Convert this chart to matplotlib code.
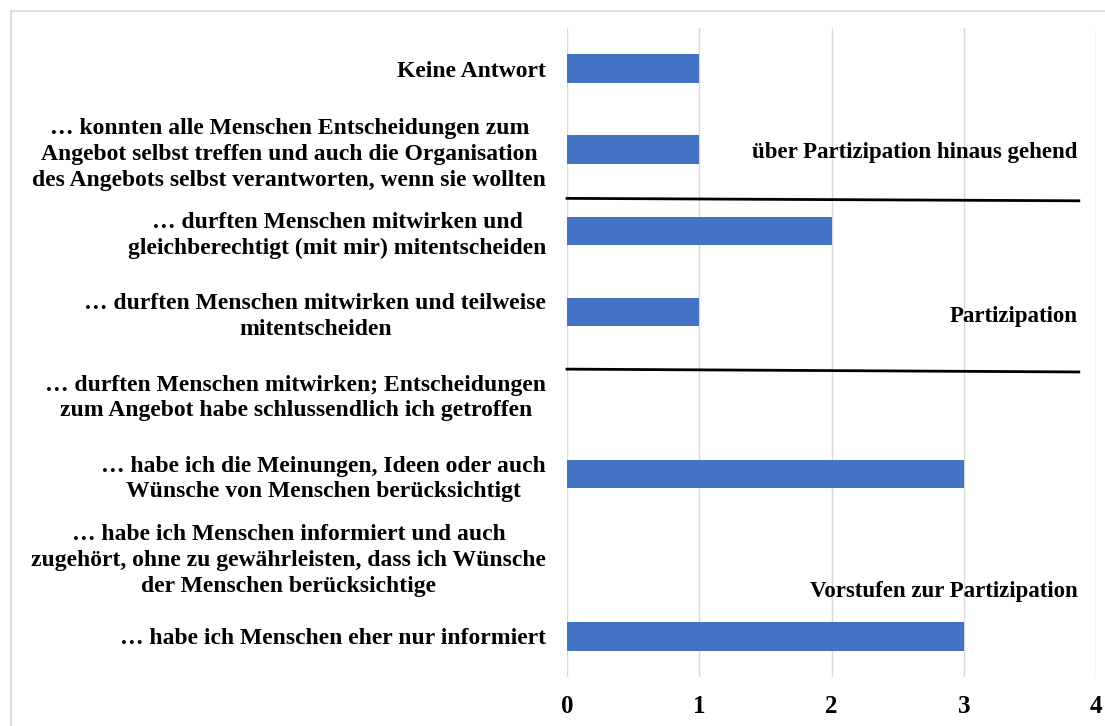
import matplotlib.pyplot as plt
from matplotlib.patches import Rectangle

plt.rcParams['font.family'] = ['Liberation Serif', 'DejaVu Serif']
plt.rcParams['font.weight'] = 'bold'

# categories from bottom to top
kategorien = [
    "… habe ich Menschen eher nur informiert",
    "… habe ich Menschen informiert und auch\nzugehört, ohne zu gewährleisten, dass ich Wünsche\nder Menschen berücksichtige",
    "… habe ich die Meinungen, Ideen oder auch\nWünsche von Menschen berücksichtigt",
    "… durften Menschen mitwirken; Entscheidungen\nzum Angebot habe schlussendlich ich getroffen",
    "… durften Menschen mitwirken und teilweise\nmitentscheiden",
    "… durften Menschen mitwirken und\ngleichberechtigt (mit mir) mitentscheiden",
    "… konnten alle Menschen Entscheidungen zum\nAngebot selbst treffen und auch die Organisation\ndes Angebots selbst verantworten, wenn sie wollten",
    "Keine Antwort",
]
anzahl = [3, 0, 3, 0, 1, 2, 1, 1]
x_ticks = [0, 1, 2, 3, 4]

stufen = ["über Partizipation hinaus gehend", "Partizipation", "Vorstufen zur Partizipation"]
stufen_y = [5.96, 3.94, 0.56]

fig = plt.figure(figsize=(11.05, 7.26), dpi=100)
fig.patches.append(Rectangle((11 / 1105, -0.1), 1.2, 1.1 - 11 / 726, transform=fig.transFigure,
                             fill=False, edgecolor='#d9d9d9', linewidth=1.2))
ax = fig.add_axes([567 / 1105, 49 / 726, (1096 - 567) / 1105, (677 - 28) / 726])

y = list(range(len(kategorien)))
ax.barh(y, anzahl, height=0.35, color='#4472c4', zorder=3)
ax.set_xlim(0, 4)
ax.set_ylim(-0.5, 7.5)
ax.set_xticks(x_ticks)
ax.set_xticklabels([str(t) for t in x_ticks], fontsize=18, fontweight='bold')
ax.set_yticks(y)
ax.set_yticklabels(kategorien, fontsize=17, fontweight='bold', ha='right',
                   multialignment='center', linespacing=1.3)
ax.tick_params(axis='y', length=0, pad=15)
ax.tick_params(axis='x', length=0, pad=13)
ax.grid(axis='x', color='#d9d9d9', linewidth=1, zorder=0)
for s in ax.spines.values():
    s.set_visible(False)

# Trennlinien
ax.plot([0, 3.87], [5.40, 5.37], color='black', linewidth=2, zorder=4, clip_on=False)
ax.plot([0, 3.87], [3.295, 3.26], color='black', linewidth=2, zorder=4, clip_on=False)

for txt, yy in zip(stufen, stufen_y):
    ax.text(3.86, yy, txt, ha='right', va='center', fontsize=16.5, fontweight='bold')

plt.savefig('out.png', dpi=100)
